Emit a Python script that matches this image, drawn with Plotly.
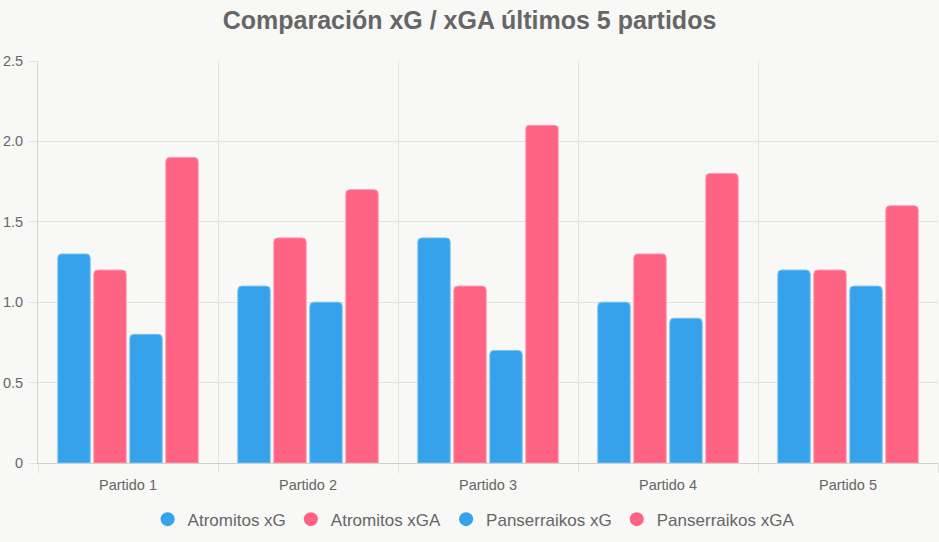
import plotly.graph_objects as go

categories = ["Partido 1", "Partido 2", "Partido 3", "Partido 4", "Partido 5"]
series_names = ["Atromitos xG", "Atromitos xGA", "Panserraikos xG", "Panserraikos xGA"]
atromitos_xg = [1.3, 1.1, 1.4, 1.0, 1.2]
atromitos_xga = [1.2, 1.4, 1.1, 1.3, 1.2]
panserraikos_xg = [0.8, 1.0, 0.7, 0.9, 1.1]
panserraikos_xga = [1.9, 1.7, 2.1, 1.8, 1.6]
y_tickvals = [0, 0.5, 1.0, 1.5, 2.0, 2.5]
y_ticktext = ["0", "0.5", "1.0", "1.5", "2.0", "2.5"]

BLUE = "rgb(54,162,235)"
PINK = "rgb(255,99,132)"
BLUE_EDGE = "rgba(120,195,245,1)"
PINK_EDGE = "rgba(255,150,175,1)"
BG = "rgb(248,248,246)"
TXT = "#666666"
GRID = "#e2e2e0"

values = [atromitos_xg, atromitos_xga, panserraikos_xg, panserraikos_xga]
fills = [BLUE, PINK, BLUE, PINK]
edges = [BLUE_EDGE, PINK_EDGE, BLUE_EDGE, PINK_EDGE]

fig = go.Figure()
for name, vals, c, e in zip(series_names, values, fills, edges):
    fig.add_trace(go.Bar(
        x=categories, y=vals, name=name, showlegend=False,
        marker=dict(color=c, line=dict(color=e, width=1)),
        hoverinfo="x+y+name",
    ))
for name, c in zip(series_names, fills):
    fig.add_trace(go.Scatter(
        x=[None], y=[None], mode="markers", name=name,
        marker=dict(symbol="circle", size=14, color=c),
    ))

fig.update_layout(
    width=939, height=542,
    paper_bgcolor=BG, plot_bgcolor=BG,
    margin=dict(l=38, r=1, t=61, b=79),
    barmode="group", bargap=0.2, bargroupgap=0.1,
    barcornerradius=4,
    font=dict(family="Liberation Sans, Arial, sans-serif", color=TXT, size=14),
    title=dict(
        text="<b>Comparación xG / xGA últimos 5 partidos</b>",
        x=0.5, xanchor="center", y=0.963, yanchor="middle",
        font=dict(size=25, color=TXT),
    ),
    legend=dict(
        orientation="h", x=0.484, xanchor="center", y=-0.096, yanchor="top",
        font=dict(size=17, color=TXT), itemwidth=30,
        bgcolor="rgba(0,0,0,0)",
    ),
    xaxis=dict(
        type="category", tickson="boundaries",
        showgrid=True, gridcolor=GRID, gridwidth=1,
        ticks="outside", ticklen=9, tickcolor=GRID,
        showline=True, linecolor="#cfcfcd", linewidth=1,
        tickfont=dict(size=14.5, color=TXT),
        ticklabelstandoff=9,
        range=[-0.5, 4.5], fixedrange=True,
    ),
    yaxis=dict(
        range=[0, 2.5], tickvals=y_tickvals, ticktext=y_ticktext,
        showgrid=True, gridcolor=GRID, gridwidth=1,
        ticks="outside", ticklen=8, tickcolor=GRID,
        showline=True, linecolor="#d6d6d4", linewidth=1,
        zeroline=False,
        tickfont=dict(size=14.5, color=TXT),
        ticklabelstandoff=3,
    ),
)

fig.write_html("out.html")
